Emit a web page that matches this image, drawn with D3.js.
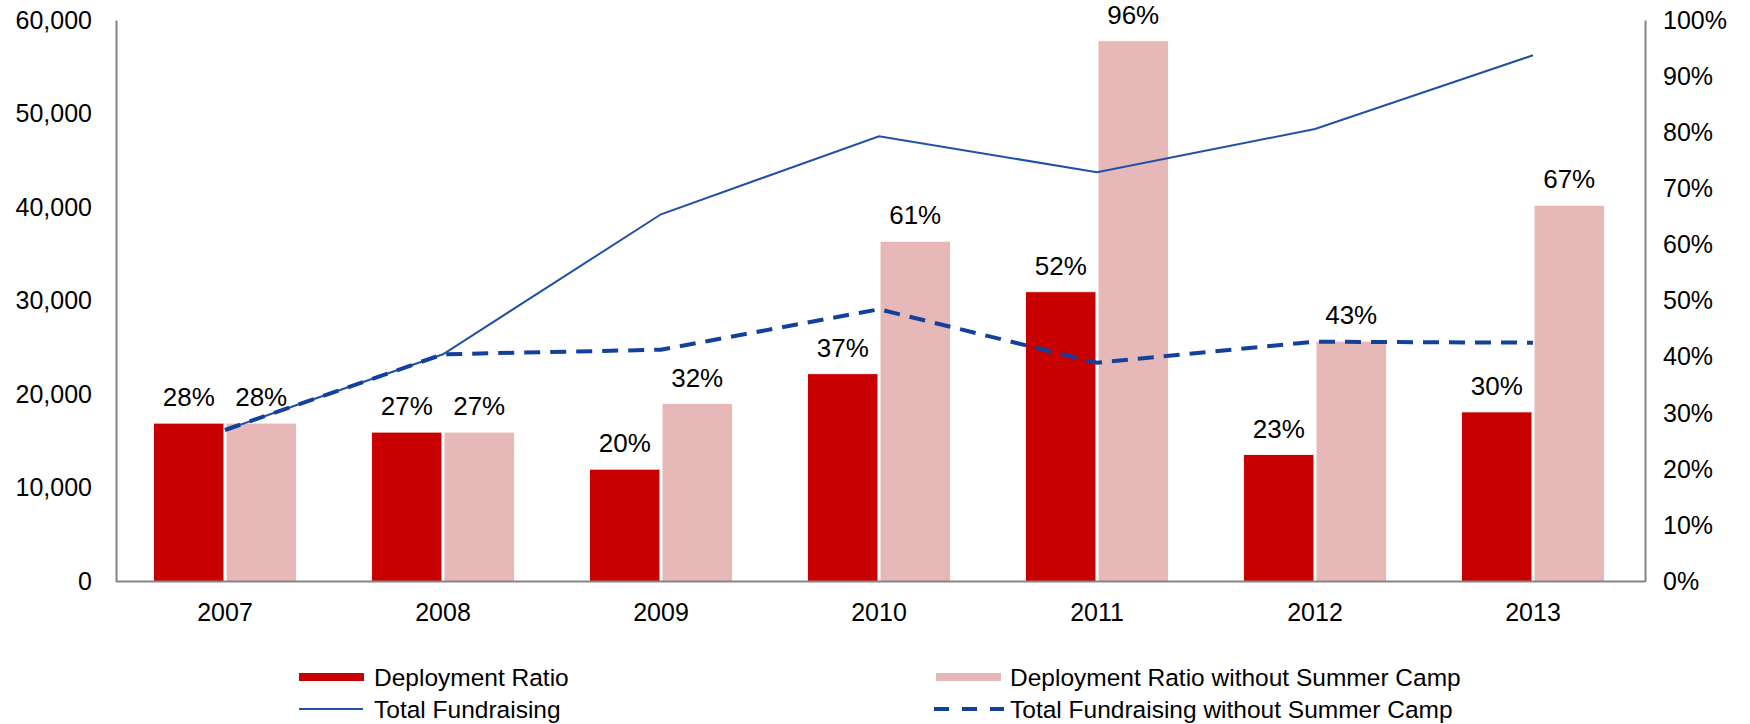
<!DOCTYPE html>
<html>
<head>
<meta charset="utf-8">
<script src="https://cdn.jsdelivr.net/npm/d3@7"></script>
<style>
  html, body { margin: 0; padding: 0; background: #fff; }
  svg text { font-family: "Liberation Sans", Arial, sans-serif; fill: #000; }
</style>
</head>
<body>
<svg id="chart" width="1750" height="724"></svg>
<script>
// ---- data ----
const years = ["2007", "2008", "2009", "2010", "2011", "2012", "2013"];
const deploymentRatio = [0.282, 0.266, 0.200, 0.370, 0.516, 0.226, 0.302];
const deploymentRatioNoCamp = [0.282, 0.266, 0.317, 0.606, 0.963, 0.428, 0.670];
const totalFundraising = [16190, 24280, 39240, 47580, 43730, 48350, 56230];
const totalFundraisingNoCamp = [16190, 24280, 24770, 29090, 23380, 25620, 25520];
const leftTicks = [0, 10000, 20000, 30000, 40000, 50000, 60000];
const rightTicks = [0, 0.1, 0.2, 0.3, 0.4, 0.5, 0.6, 0.7, 0.8, 0.9, 1.0];
const seriesNames = ["Deployment Ratio", "Deployment Ratio without Summer Camp",
                     "Total Fundraising", "Total Fundraising without Summer Camp"];

// ---- styles ----
const RED = "#c80000", PINK = "#e6b8b7", BLUE = "#2150a6", DBLUE = "#12409b";
const AXIS = "#858585";

const svg = d3.select("#chart");
const L = 116, R = 1642, RAX = 1645, T = 20, B = 581.5;

const x = d3.scaleBand().domain(years).range([L, R]).paddingInner(0.345).paddingOuter(0.1725);
const xs = d3.scaleBand().domain(["a", "b"]).range([0, x.bandwidth()]).paddingInner(0.03);
const yL = d3.scaleLinear().domain([0, 60000]).range([B, T]);
const yR = d3.scaleLinear().domain([0, 1]).range([B, T]);

// bars
const barData = [];
years.forEach((yr, i) => {
  barData.push({yr, k: "a", v: deploymentRatio[i], c: RED});
  barData.push({yr, k: "b", v: deploymentRatioNoCamp[i], c: PINK});
});
svg.append("g").selectAll("rect").data(barData).join("rect")
  .attr("x", d => x(d.yr) + xs(d.k))
  .attr("y", d => yR(d.v))
  .attr("width", xs.bandwidth())
  .attr("height", d => B - yR(d.v))
  .attr("fill", d => d.c)
  .attr("stroke", "#fff").attr("stroke-width", 0.8);

// bar labels
const pct = d3.format(".0%");
svg.append("g").selectAll("text").data(barData).join("text")
  .attr("x", d => x(d.yr) + xs(d.k) + xs.bandwidth() / 2)
  .attr("y", d => yR(d.v) - 17)
  .attr("text-anchor", "middle")
  .attr("font-size", 26)
  .text(d => pct(d.v));

// lines
const cx = yr => x(yr) + x.bandwidth() / 2;
const line = d3.line().x((d, i) => cx(years[i])).y(d => yL(d));
svg.append("path").datum(totalFundraising)
  .attr("d", line).attr("fill", "none").attr("stroke", BLUE).attr("stroke-width", 2);
svg.append("path").datum(totalFundraisingNoCamp)
  .attr("d", line).attr("fill", "none").attr("stroke", DBLUE).attr("stroke-width", 4)
  .attr("stroke-dasharray", "16,10");

// axes
const gL = svg.append("g").attr("transform", `translate(${L},0)`)
  .call(d3.axisLeft(yL).tickValues(leftTicks).tickSize(0).tickSizeOuter(0).tickPadding(24).tickFormat(d3.format(",")));
const gR = svg.append("g").attr("transform", `translate(${RAX},0)`)
  .call(d3.axisRight(yR).tickValues(rightTicks).tickSize(0).tickSizeOuter(0).tickPadding(18).tickFormat(d3.format(".0%")));
const gB = svg.append("g").attr("transform", `translate(0,${B})`)
  .call(d3.axisBottom(x).tickSize(0).tickSizeOuter(0).tickPadding(22));
gB.select(".domain").attr("d", `M${L},0H${RAX}`);
[gL, gR, gB].forEach(g => {
  g.select(".domain").attr("stroke", AXIS).attr("stroke-width", 2);
  g.selectAll("text").attr("font-size", 25).attr("fill", "#000")
    .style("font-family", '"Liberation Sans", Arial, sans-serif');
});

// legend
const legend = [
  {name: seriesNames[0], type: "bar", c: RED, x: 299, y: 677, tx: 374},
  {name: seriesNames[1], type: "bar", c: PINK, x: 936, y: 677, tx: 1010},
  {name: seriesNames[2], type: "line", c: BLUE, x: 299, y: 709, tx: 374},
  {name: seriesNames[3], type: "dash", c: DBLUE, x: 934, y: 709, tx: 1010}
];
const lg = svg.append("g").selectAll("g").data(legend).join("g");
lg.each(function(d) {
  const g = d3.select(this);
  if (d.type === "bar") {
    g.append("rect").attr("x", d.x).attr("y", d.y - 4).attr("width", 65).attr("height", 8).attr("fill", d.c);
  } else if (d.type === "line") {
    g.append("line").attr("x1", d.x).attr("x2", d.x + 64).attr("y1", d.y).attr("y2", d.y)
      .attr("stroke", d.c).attr("stroke-width", 2);
  } else {
    g.append("line").attr("x1", d.x).attr("x2", d.x + 70).attr("y1", d.y).attr("y2", d.y)
      .attr("stroke", d.c).attr("stroke-width", 4).attr("stroke-dasharray", "15,13");
  }
  g.append("text").attr("x", d.tx).attr("y", d.y).attr("dy", "0.36em")
    .attr("font-size", 24.5).text(d.name);
});
</script>
</body>
</html>
